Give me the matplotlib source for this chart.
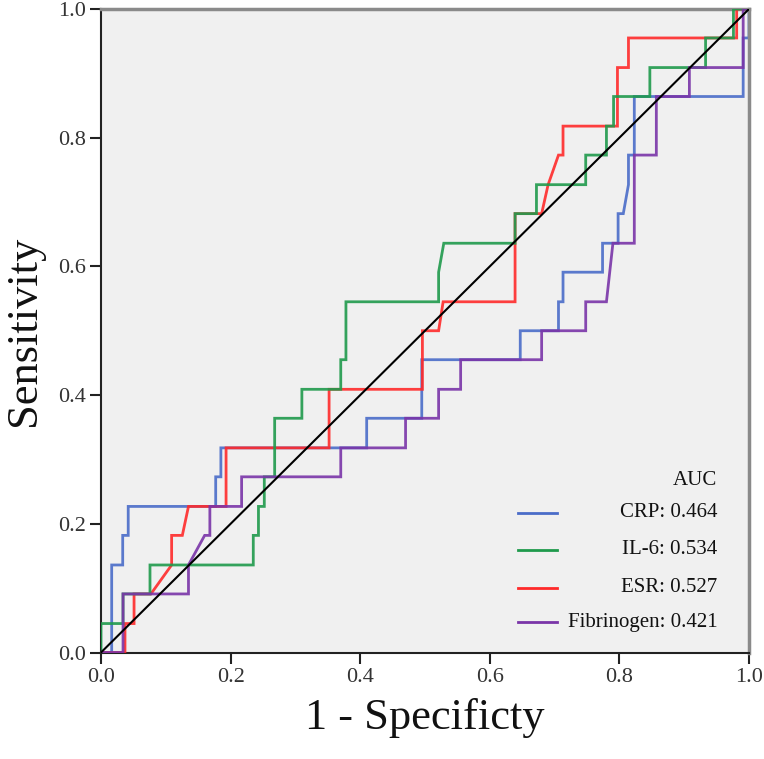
import matplotlib
matplotlib.use("Agg")
import matplotlib.pyplot as plt

# ROC curve vertices (1 - specificity, sensitivity)
crp_fpr = [0, 0.0165, 0.0165, 0.0335, 0.0335, 0.042, 0.042, 0.177, 0.177, 0.185, 0.185,
           0.41, 0.41, 0.495, 0.495, 0.647, 0.647, 0.706, 0.706, 0.713, 0.713, 0.774,
           0.774, 0.798, 0.798, 0.806, 0.814, 0.814, 0.823, 0.823, 0.991, 0.991, 1.0, 1.0]
crp_tpr = [0, 0, 0.136, 0.136, 0.182, 0.182, 0.227, 0.227, 0.273, 0.273, 0.318,
           0.318, 0.364, 0.364, 0.455, 0.455, 0.5, 0.5, 0.545, 0.545, 0.591, 0.591,
           0.636, 0.636, 0.682, 0.682, 0.727, 0.773, 0.773, 0.864, 0.864, 0.955, 0.955, 1.0]

il6_fpr = [0, 0, 0.034, 0.034, 0.0756, 0.0756, 0.235, 0.235, 0.243, 0.243, 0.252, 0.252,
           0.268, 0.268, 0.31, 0.31, 0.37, 0.37, 0.378, 0.378, 0.521, 0.521, 0.529,
           0.639, 0.639, 0.672, 0.672, 0.748, 0.748, 0.780, 0.780, 0.791, 0.791,
           0.847, 0.847, 0.933, 0.933, 0.976, 0.976, 1.0]
il6_tpr = [0, 0.045, 0.045, 0.091, 0.091, 0.136, 0.136, 0.182, 0.182, 0.227, 0.227, 0.273,
           0.273, 0.364, 0.364, 0.409, 0.409, 0.455, 0.455, 0.545, 0.545, 0.591, 0.636,
           0.636, 0.682, 0.682, 0.727, 0.727, 0.773, 0.773, 0.818, 0.818, 0.864,
           0.864, 0.909, 0.909, 0.955, 0.955, 1.0, 1.0]

esr_fpr = [0, 0.037, 0.037, 0.051, 0.051, 0.077, 0.109, 0.109, 0.1255, 0.135, 0.193, 0.193,
           0.352, 0.352, 0.496, 0.496, 0.521, 0.528, 0.639, 0.639, 0.680, 0.690, 0.706,
           0.713, 0.713, 0.797, 0.797, 0.814, 0.814, 0.981, 0.981, 1.0]
esr_tpr = [0, 0, 0.045, 0.045, 0.091, 0.091, 0.136, 0.182, 0.182, 0.227, 0.227, 0.318,
           0.318, 0.409, 0.409, 0.5, 0.5, 0.545, 0.545, 0.682, 0.682, 0.727, 0.773,
           0.773, 0.818, 0.818, 0.909, 0.909, 0.955, 0.955, 1.0, 1.0]

fib_fpr = [0, 0.034, 0.034, 0.135, 0.135, 0.160, 0.168, 0.168, 0.217, 0.217, 0.37, 0.37,
           0.470, 0.470, 0.521, 0.521, 0.555, 0.555, 0.680, 0.680, 0.748, 0.748, 0.780,
           0.790, 0.823, 0.823, 0.857, 0.857, 0.908, 0.908, 0.991, 0.991, 1.0]
fib_tpr = [0, 0, 0.091, 0.091, 0.136, 0.182, 0.182, 0.227, 0.227, 0.273, 0.273, 0.318,
           0.318, 0.364, 0.364, 0.409, 0.409, 0.455, 0.455, 0.5, 0.5, 0.545, 0.545,
           0.636, 0.636, 0.773, 0.773, 0.864, 0.864, 0.909, 0.909, 1.0, 1.0]

ref_line = [0, 1]

legend_labels = ["CRP: 0.464", "IL-6: 0.534", "ESR: 0.527", "Fibrinogen: 0.421"]
colors = ["#4a6cc8", "#1f9a4c", "#ff2a2a", "#7a35a8"]
ticks = [0.0, 0.2, 0.4, 0.6, 0.8, 1.0]
tick_labels = ["0.0", "0.2", "0.4", "0.6", "0.8", "1.0"]

plt.rcParams['font.family'] = ['Liberation Serif', 'DejaVu Serif']

fig = plt.figure(figsize=(7.64, 7.59), dpi=100)
ax = fig.add_axes([101/764, (759-652.5)/759, 648/764, 643.5/759])
ax.set_facecolor("#f0f0f0")

series = [(crp_fpr, crp_tpr, 2), (il6_fpr, il6_tpr, 4), (esr_fpr, esr_tpr, 3), (fib_fpr, fib_tpr, 5)]
for (fx, fy, z), c in zip(series, colors):
    ax.plot(fx, fy, color=c, lw=2.0, alpha=0.9, zorder=z, solid_joinstyle='miter')

ax.plot(ref_line, ref_line, color="black", lw=1.5, zorder=6)

ax.set_xlim(0, 1)
ax.set_ylim(0, 1)
ax.set_xticks(ticks)
ax.set_xticklabels(tick_labels)
ax.set_yticks(ticks)
ax.set_yticklabels(tick_labels)
ax.tick_params(direction='out', length=8, width=1.5, labelsize=16, color='#222222',
               labelcolor='#333333', pad=3)

for s in ['left', 'bottom']:
    ax.spines[s].set_color('#222222')
    ax.spines[s].set_linewidth(1.5)
for s in ['top', 'right']:
    ax.spines[s].set_color('#8a8a8a')
    ax.spines[s].set_linewidth(2.5)

ax.set_xlabel("1 - Specificty", fontsize=32, labelpad=8, color='#111111')
ax.set_ylabel("Sensitivity", fontsize=32, labelpad=10, color='#111111')

# Legend (drawn in axes coordinates)
ax.text(0.951, 0.268, "AUC", transform=ax.transAxes, ha='right', va='center', fontsize=15, color='#111111')
rows_y = [0.217, 0.160, 0.101, 0.047]
for lab, c, yy in zip(legend_labels, colors, rows_y):
    ax.plot([0.644, 0.703], [yy, yy], transform=ax.transAxes, color=c, lw=2.0, zorder=7)
    ax.text(0.951, yy, lab, transform=ax.transAxes, ha='right', va='center', fontsize=15, color='#111111')

fig.savefig("out.png", dpi=100)
